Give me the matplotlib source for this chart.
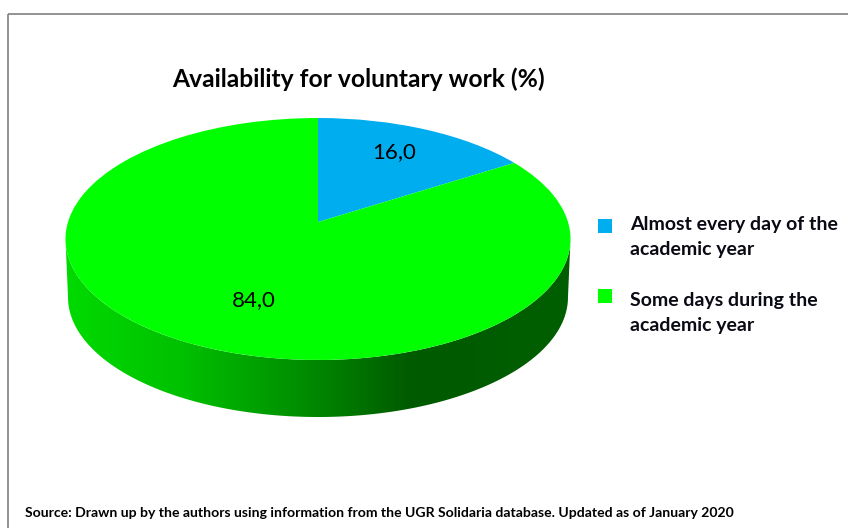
import numpy as np
import matplotlib
matplotlib.use('Agg')
import matplotlib.pyplot as plt
from matplotlib.patches import Polygon
from matplotlib.transforms import Transform
from matplotlib.colors import LinearSegmentedColormap

# data
categories = ['Almost every day of the\nacademic year', 'Some days during the\nacademic year']
values = [16.0, 84.0]
colors = ['#00AEEF', '#00FF00']
title = 'Availability for voluntary work (%)'
source = 'Source: Drawn up by the authors using information from the UGR Solidaria database. Updated as of January 2020'

plt.rcParams['font.family'] = ['Lato', 'DejaVu Sans']


# unit circle -> picture pixels, with a little perspective like the excel 3d pie
class Persp(Transform):
    input_dims = 2
    output_dims = 2

    def __init__(self, cx, cy, a, b, k, s=1.0):
        super().__init__()
        self.p = (cx, cy, a, b, k, s)

    def transform_non_affine(self, xy):
        cx, cy, a, b, k, s = self.p
        xy = np.asarray(xy)
        w = 1 + k * xy[:, 1]
        return np.column_stack([cx + s * a * xy[:, 0] / w, cy - s * b * xy[:, 1] / w])


fig = plt.figure(figsize=(8.48, 5.28), dpi=100)
ax = fig.add_axes([0, 0, 1, 1])

wedges, _ = ax.pie(values, colors=colors, startangle=90, counterclock=False, radius=1)
ax.set_aspect('auto')
ax.axis('off')

top = Persp(318, 222, 250, 118.6, 0.1405)
low = Persp(318, 280.4, 250, 118.6, 0.1405, s=0.99)
for w in wedges:
    w.set_transform(top + ax.transData)
    w.set_zorder(3)
    w.set_linewidth(0)

# side of the disc, gradient clipped to the band between both rims
t = np.linspace(np.pi + 0.14, 2 * np.pi - 0.14, 200)
circ = np.column_stack([np.cos(t), np.sin(t)])
band = np.vstack([top.transform(circ), low.transform(circ)[::-1]])
side = Polygon(band, transform=ax.transData, fc='none', ec='none')
ax.add_patch(side)
cmap = LinearSegmentedColormap.from_list('side', [(0, '#00DC00'), (0.24, '#00C000'), (0.43, '#009600'),
                                                  (0.5, '#008600'), (0.68, '#005A00'), (1, '#005F00')])
im = ax.imshow(np.linspace(0, 1, 256).reshape(1, -1), cmap=cmap, extent=(60, 575, 425, 225), aspect='auto', zorder=2)
im.set_clip_path(side)
ax.set_xlim(0, 848)
ax.set_ylim(528, 0)

# frame, only top and left are visible
ax.plot([8, 8], [528, 14], color='#808080', lw=1.2, solid_capstyle='butt')
ax.plot([8, 848], [14, 14], color='#808080', lw=1.2, solid_capstyle='butt')

ax.text(358.5, 79, title, fontsize=17.7, fontweight='bold', ha='center', va='center', color='#000000')

lab_pos = [(394, 152), (254, 300)]
for v, pos in zip(values, lab_pos):
    ax.text(pos[0], pos[1], f'{v:.1f}'.replace('.', ','), fontsize=16, ha='center', va='center', zorder=5)

# legend
leg_y = [226, 296]
txt_y = [237, 313]
for c, name, y, ty in zip(colors, categories, leg_y, txt_y):
    ax.scatter([605], [y], marker='s', s=100, color=c, linewidths=0, zorder=4)
    ax.text(630.5, ty, name, fontsize=14, fontweight='bold', va='center', ha='left', linespacing=1.52, color='#0A0A14')

ax.text(25, 513, source, fontsize=10.1, fontweight='bold', va='center', ha='left')

fig.savefig('out.png', dpi=100)
